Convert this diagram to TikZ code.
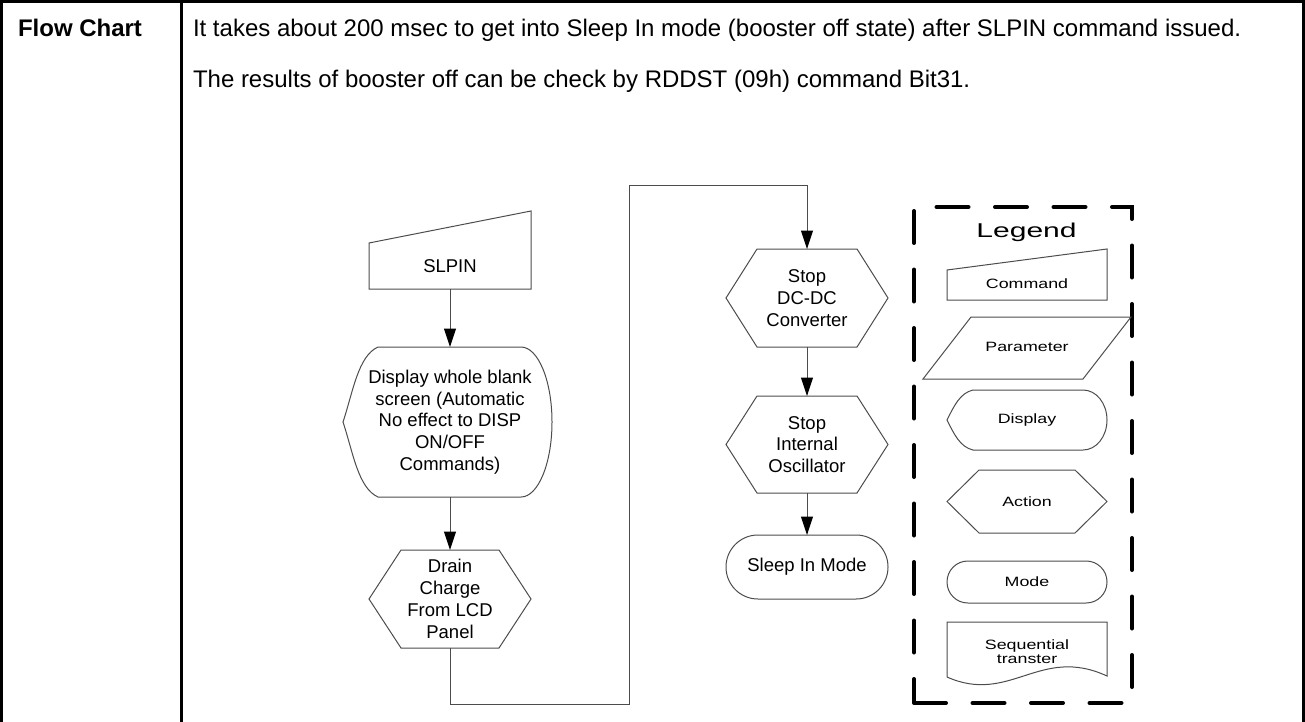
\documentclass[tikz,border=0pt]{standalone}
\usepackage{fontspec}
\setmainfont{Liberation Sans}
\newfontfamily\legitemfam[FakeStretch=1.32]{Liberation Sans}
\newfontfamily\legtitlefam[FakeStretch=1.5]{Liberation Sans}
\newcommand\myhdrfont{\fontsize{24}{28}\selectfont}
\newcommand\myflowfont{\fontsize{18.5}{21.75}\selectfont}
\newcommand\mylegfont{\legitemfam\fontsize{13.5}{14}\selectfont}
\newcommand\mylegtitle{\legtitlefam\fontsize{20}{22}\selectfont}
\usetikzlibrary{arrows.meta}
\definecolor{ln}{gray}{0.3}
\tikzset{
  shp/.style={draw=ln, line width=1pt, line join=miter},
  conn/.style={draw=ln, line width=1pt},
  arr/.style={conn, -{Triangle[length=18.5pt,width=12pt,color=black]}},
  box/.style={inner sep=0pt, outer sep=0pt, align=center, font=\myflowfont},
  lbox/.style={inner sep=0pt, outer sep=0pt, align=center, font=\mylegfont},
  hdr/.style={anchor=base west, inner sep=0pt, outer sep=0pt, font=\myhdrfont}
}
\begin{document}
\begin{tikzpicture}[x=1pt,y=-1pt]
\useasboundingbox (0,0) rectangle (1305,722);
% table frame
\draw[line width=3pt] (1.5,725) -- (1.5,1.5) -- (1303.5,1.5) -- (1303.5,725);
\draw[line width=3pt] (181,1.5) -- (181,725);
% header texts
\node[hdr, font=\myhdrfont\bfseries] (fc) at (18,37) {Flow Chart};
\node[hdr] (l1) at (193,37) {It takes about 200 msec to get into Sleep In mode (booster off state) after SLPIN command issued.};
\node[hdr] (l2) at (193,88) {The results of booster off can be check by RDDST (09h) command Bit31.};

% ---- flow chart nodes ----
\node[box, minimum width=162pt, minimum height=46pt] (slpin) at (450,266) {SLPIN};
\draw[shp] (369,243) -- (531,211) -- (531,289) -- (369,289) -- cycle;

\node[box, minimum width=200pt, minimum height=150pt] (disp) at (450,422) {Display whole blank\\screen (Automatic\\No effect to DISP\\ON/OFF\\Commands)};
\draw[shp] (343,422) .. controls (353,392) and (358,356) .. (378,347) -- (521,347)
  .. controls (538.1,347) and (552,380.6) .. (552,422)
  .. controls (552,463.4) and (538.1,497) .. (521,497) -- (378,497)
  .. controls (358,488) and (353,452) .. cycle;

\node[box, minimum width=162pt, minimum height=98pt] (drain) at (450,599) {Drain\\Charge\\From LCD\\Panel};
\draw[shp] (369,599) -- (401,550) -- (499,550) -- (531,599) -- (499,648) -- (401,648) -- cycle;

\node[box, minimum width=162pt, minimum height=98pt] (dcdc) at (807,298) {Stop\\DC-DC\\Converter};
\draw[shp] (726,298) -- (757,249) -- (857,249) -- (888,298) -- (857,347) -- (757,347) -- cycle;

\node[box, minimum width=162pt, minimum height=97pt] (osc) at (807,444.5) {Stop\\Internal\\Oscillator};
\draw[shp] (726,444.5) -- (757,396) -- (857,396) -- (888,444.5) -- (857,493) -- (757,493) -- cycle;

\node[box, minimum width=162pt, minimum height=64pt] (sleep) at (807,567) {Sleep In Mode};
\draw[shp, rounded corners=31.9pt] (726,535) rectangle (888,599);

% ---- connectors ----
\coordinate (c1) at (450,704);
\coordinate (c2) at (629,704);
\coordinate (c3) at (629,185);
\coordinate (c4) at (807,185);
\draw[arr] (slpin.south) -- (disp.north);
\draw[arr] (disp.south) -- (drain.north);
\draw[arr] (drain.south) -- (c1) -- (c2) -- (c3) -- (c4) -- (dcdc.north);
\draw[arr] (dcdc.south) -- (osc.north);
\draw[arr] (osc.south) -- (sleep.north);

% ---- legend ----
\draw[line width=4pt, line cap=round, dash pattern=on 32pt off 26.5pt]
  (914,703) -- (1132,703) -- (1132,207) -- (914,207) -- cycle;
\node[inner sep=0pt, font=\mylegtitle] (legt) at (1026.5,232) {Legend};

\node[lbox, minimum width=160pt, minimum height=30pt] (lcmd) at (1027,284) {Command};
\draw[shp] (947,270) -- (1107,249) -- (1107,300) -- (947,300) -- cycle;

\node[lbox, minimum width=160pt, minimum height=62pt] (lpar) at (1027,347) {Parameter};
\draw[shp] (971,317) -- (1131,317) -- (1083,379) -- (923,379) -- cycle;

\node[lbox, minimum width=160pt, minimum height=60pt] (ldisp) at (1027,420) {Display};
\draw[shp] (947,420) .. controls (954,406) and (960,393) .. (973,390) -- (1083,390)
  .. controls (1096.3,390) and (1107,403.4) .. (1107,420)
  .. controls (1107,436.6) and (1096.3,450) .. (1083,450) -- (973,450)
  .. controls (960,447) and (954,434) .. cycle;

\node[lbox, minimum width=160pt, minimum height=63pt] (lact) at (1027,501.5) {Action};
\draw[shp] (947,501.5) -- (979,470) -- (1075,470) -- (1107,501.5) -- (1075,533) -- (979,533) -- cycle;

\node[lbox, minimum width=160pt, minimum height=42pt] (lmode) at (1027,582) {Mode};
\draw[shp, rounded corners=20.9pt] (947,561) rectangle (1107,603);

\node[lbox, minimum width=160pt, minimum height=40pt] (lseq) at (1027,652) {Sequential\\transter};
\draw[shp] (947,677) -- (947,622) -- (1107,622) -- (1107,676)
  .. controls (1040,645) and (1010,705) .. (947,677);
\end{tikzpicture}
\end{document}
